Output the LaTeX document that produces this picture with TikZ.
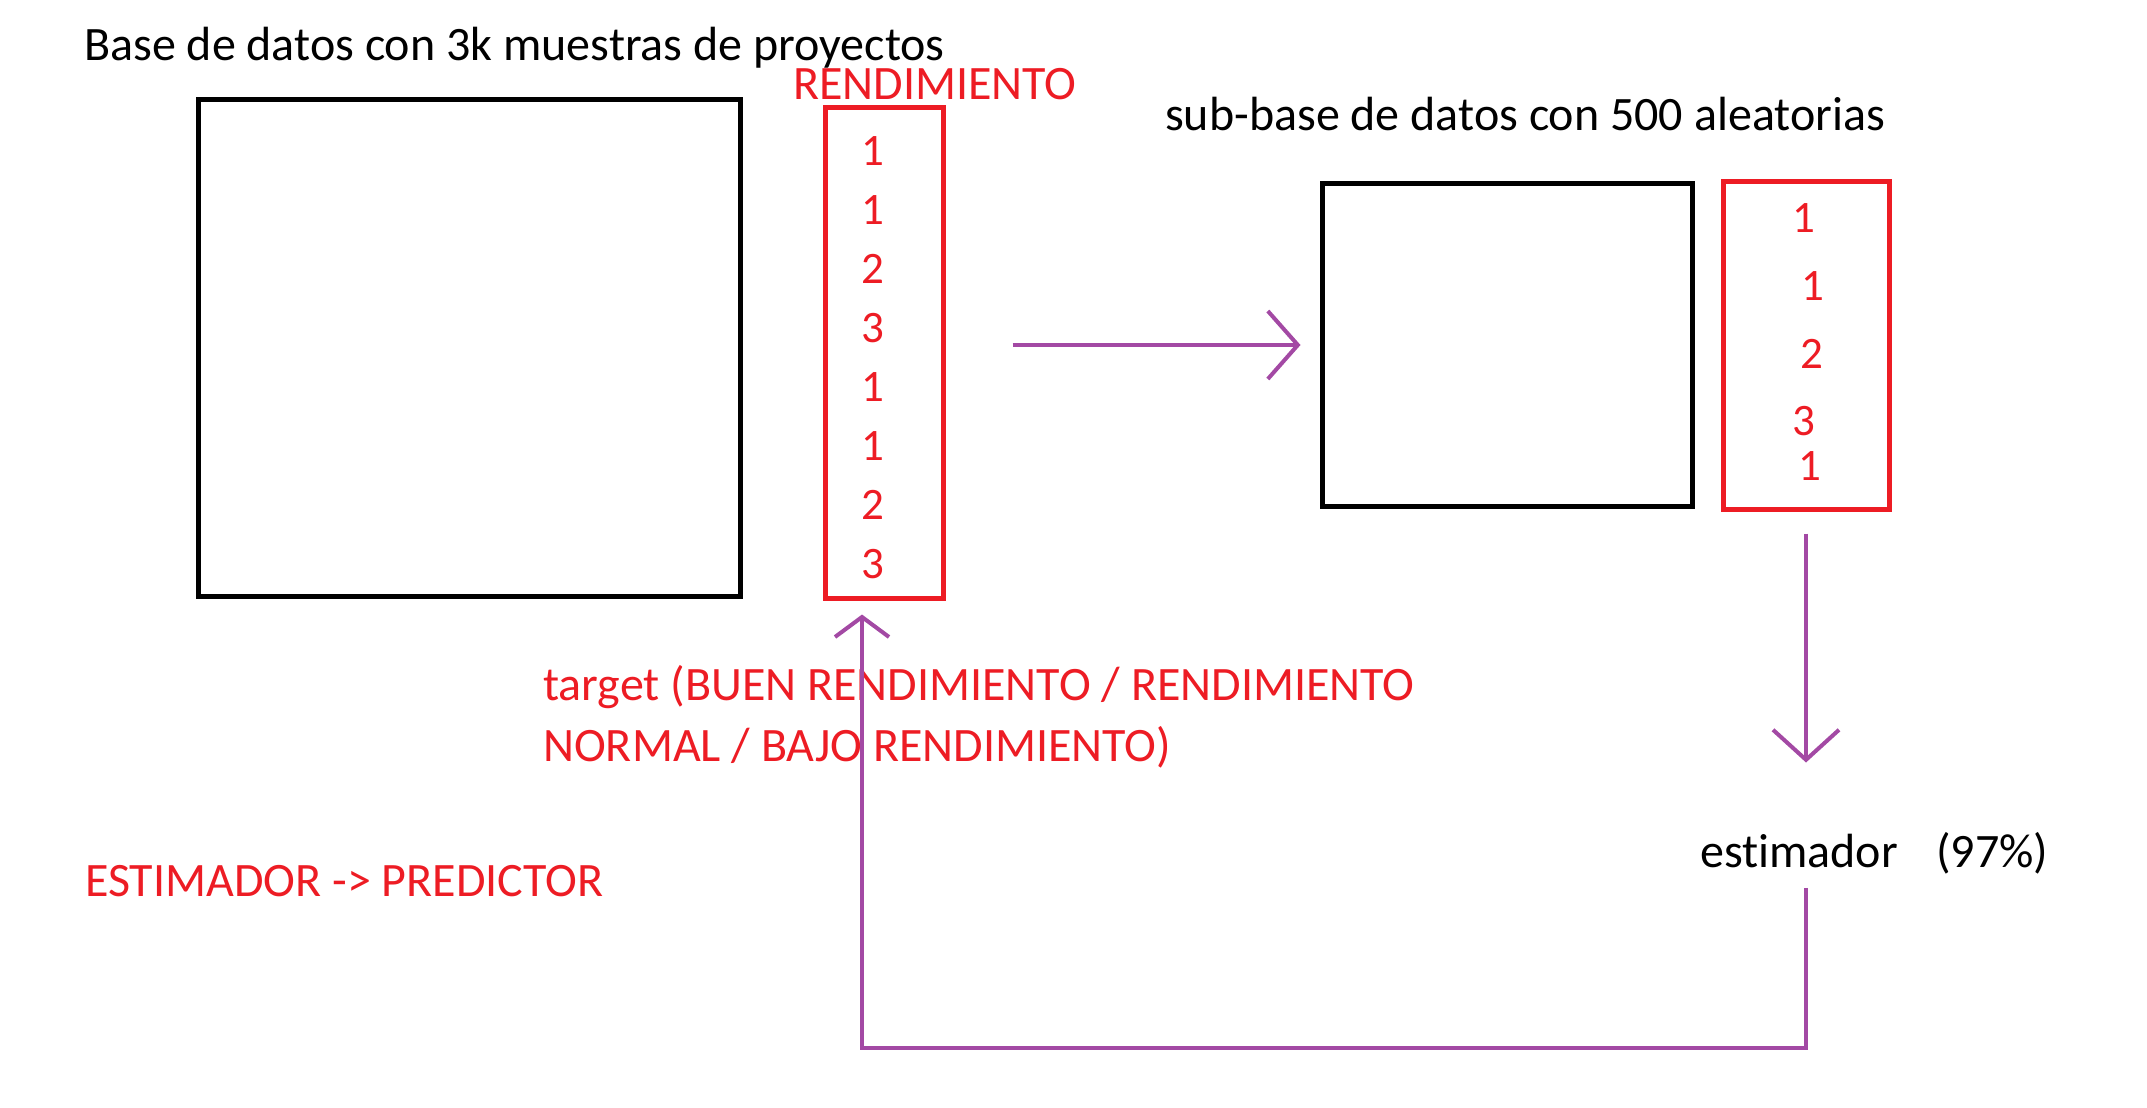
\documentclass[tikz,border=0pt]{standalone}
\usepackage{fontspec}
\setmainfont[Ligatures={NoCommon}]{Carlito}
\usetikzlibrary{arrows.meta,positioning}
\definecolor{targetRed}{RGB}{237,28,36}
\definecolor{flowPurple}{RGB}{163,73,164}
\tikzstyle{sheet} = [x = 1pt, y = -1pt]
\tikzstyle{dataBox} = [draw=black, line width=5pt, inner sep=0pt]
\tikzstyle{targetBox} = [draw=targetRed, line width=5pt, inner sep=0pt]
\tikzstyle{labelText} = [font=\fontsize{48}{58}\selectfont, inner sep=0pt, anchor=base west]
\tikzstyle{redText} = [labelText, text=targetRed]
\tikzstyle{digitText} = [font=\fontsize{45}{52}\selectfont, text=targetRed, inner sep=0pt]
\tikzstyle{flowArrow} = [color=flowPurple, line width=4pt, -{Straight Barb[length=30pt, width=68pt]}]

\begin{document}
\begin{tikzpicture}[sheet]
  \useasboundingbox (0,0) rectangle (2147,1108);
  % base de datos completa
  \node[labelText] (baseTitle) at (84,60) {Base de datos con 3k muestras de proyectos};
  \node[dataBox, minimum width=542pt, minimum height=497pt] (baseBox) at (469,347.5) {};
  \node[targetBox, minimum width=118pt, minimum height=491pt] (baseTarget) at (884,352.5) {};
  \node[redText] (targetTitle) at (793,99.5) {RENDIMIENTO};
  \foreach \val [count=\i] in {1,1,2,3,1,1,2,3}
    \node[digitText] (baseDigit\i) at (873,{92 + 59 * \i}) {\val};

  % sub-base
  \node[labelText] (subTitle) at (1165,130.6) {sub-base de datos con 500 aleatorias};
  \node[dataBox, minimum width=370pt, minimum height=323pt] (subBox) at (1507,345) {};
  \node[targetBox, minimum width=166pt, minimum height=328pt] (subTarget) at (1806,345) {};
  \foreach \val/\px/\py [count=\i] in {1/1804/217.6, 1/1813/286, 2/1812/354, 3/1804/420.7, 1/1810/466}
    \node[digitText] (subDigit\i) at (\px,\py) {\val};

  % textos
  \node[redText] (targetLineA) at (543,700) {target (BUEN RENDIMIENTO / RENDIMIENTO};
  \node[redText] (targetLineB) at (543,761) {NORMAL / BAJO RENDIMIENTO)};
  \node[redText] (predictorText) at (85,896) {ESTIMADOR -> PREDICTOR};
  \node[labelText] (estimator) at (1700,867) {estimador\hspace{0.8em}(97\%)};

  % flechas
  \coordinate (loopCorner) at (862,1048);
  \coordinate (targetTip) at ([yshift=-14pt]baseTarget.south);
  \draw[flowArrow] (baseTarget.east |- subBox.west) ++(67,0) -- ([xshift=-19pt]subBox.west);
  \draw[flowArrow, -{Straight Barb[length=30pt, width=66pt]}] ([yshift=-22pt]subTarget.south) -- ++(0,229);
  \draw[flowArrow, -{Straight Barb[length=20pt, width=54pt]}] (estimator.south -| subTarget.south) ++(0,14) |- (loopCorner) -- (loopCorner |- targetTip);
\end{tikzpicture}
\end{document}
